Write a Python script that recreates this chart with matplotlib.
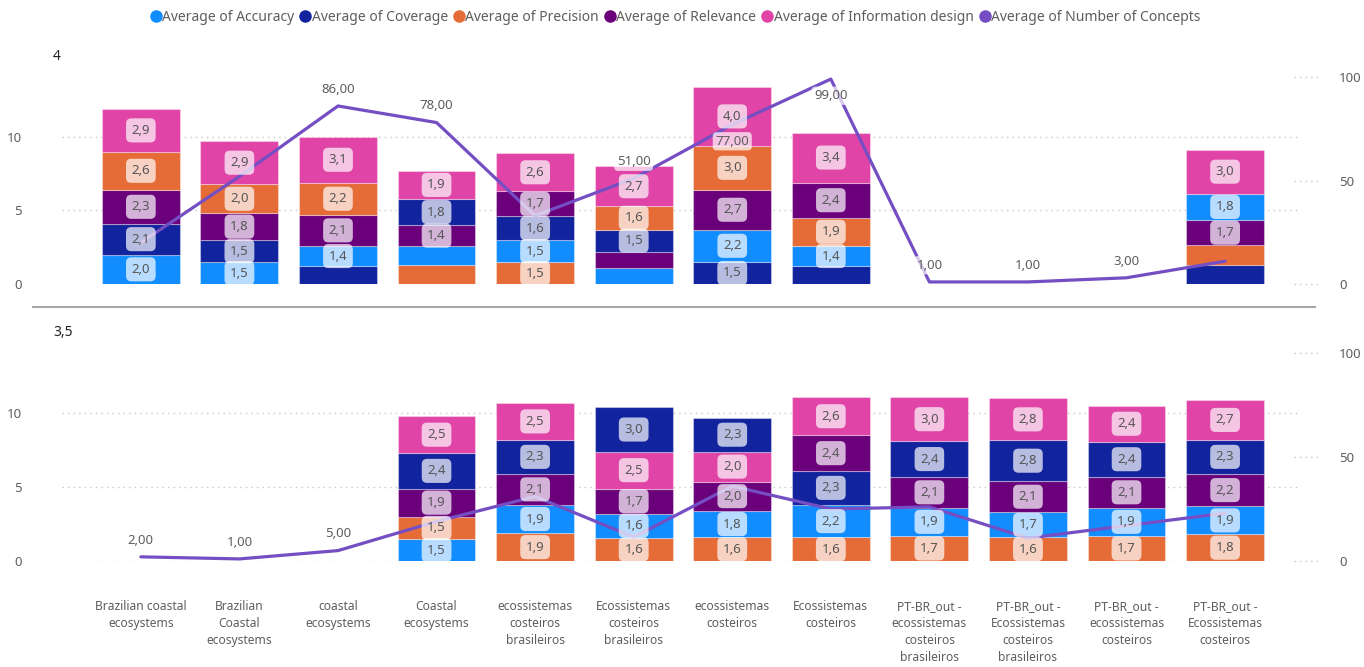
import numpy as np
import matplotlib
matplotlib.use('Agg')
import matplotlib.pyplot as plt
from matplotlib.lines import Line2D
from matplotlib.transforms import blended_transform_factory

plt.rcParams['font.family'] = ['Noto Sans', 'DejaVu Sans']

nan = np.nan

categories = ['Brazilian coastal\necosystems', 'Brazilian\nCoastal\necosystems', 'coastal\necosystems',
              'Coastal\necosystems', 'ecossistemas\ncosteiros\nbrasileiros', 'Ecossistemas\ncosteiros\nbrasileiros',
              'ecossistemas\ncosteiros', 'Ecossistemas\ncosteiros', 'PT-BR_out -\necossistemas\ncosteiros\nbrasileiros',
              'PT-BR_out -\nEcossistemas\ncosteiros\nbrasileiros', 'PT-BR_out -\necossistemas\ncosteiros',
              'PT-BR_out -\nEcossistemas\ncosteiros']

series_names = ['Average of Accuracy', 'Average of Coverage', 'Average of Precision',
                'Average of Relevance', 'Average of Information design']
line_name = 'Average of Number of Concepts'

# panel "4"
accuracy_4 = [2.0, 1.48, 1.4, 1.32, 1.52, 1.08, 2.2, 1.4, nan, nan, nan, 1.8]
coverage_4 = [2.1, 1.52, 1.2, 1.8, 1.6, 1.5, 1.5, 1.2, nan, nan, nan, 1.3]
precision_4 = [2.6, 2.0, 2.2, 1.27, 1.48, 1.6, 3.0, 1.9, nan, nan, nan, 1.34]
relevance_4 = [2.3, 1.8, 2.1, 1.4, 1.7, 1.12, 2.7, 2.4, nan, nan, nan, 1.7]
info_4 = [2.9, 2.9, 3.1, 1.9, 2.6, 2.7, 4.0, 3.4, nan, nan, nan, 3.0]
concepts_4 = [20, 52, 86, 78, 33, 51, 77, 99, 1, 1, 3, 11]

# panel "3,5"
accuracy_35 = [nan, nan, nan, 1.48, 1.92, 1.62, 1.8, 2.2, 1.9, 1.7, 1.9, 1.9]
coverage_35 = [nan, nan, nan, 2.4, 2.3, 3.0, 2.3, 2.3, 2.4, 2.78, 2.38, 2.3]
precision_35 = [nan, nan, nan, 1.52, 1.88, 1.58, 1.6, 1.6, 1.7, 1.6, 1.7, 1.8]
relevance_35 = [nan, nan, nan, 1.9, 2.1, 1.7, 1.98, 2.4, 2.1, 2.1, 2.1, 2.2]
info_35 = [nan, nan, nan, 2.5, 2.5, 2.5, 2.02, 2.6, 3.0, 2.82, 2.42, 2.7]
concepts_35 = [2, 1, 5, 19, 31, 11.5, 36, 25, 26, 11, 17, 23]

colors = ['#118DFF', '#12239E', '#E66C37', '#6B007B', '#E044A7']
line_color = '#744EC2'
text_color = '#605E5C'

panels = [
    ('4', [accuracy_4, coverage_4, precision_4, relevance_4, info_4], concepts_4,
     [False, False, True, True, False, True, True, True, True, True, True, False], {6, 7}),
    ('3,5', [accuracy_35, coverage_35, precision_35, relevance_35, info_35], concepts_35,
     [True, True, True] + [False] * 9, set()),
]

fig = plt.figure(figsize=(13.64, 6.67), dpi=100)
W, H = 1364.0, 667.0
boxes = [(284, 77), (561, 353)]

for p, (title, series, concepts, show_lbl, below) in enumerate(panels):
    y0, y1 = boxes[p]
    ax = fig.add_axes([62 / W, 1 - y0 / H, (1300 - 62) / W, (y0 - y1) / H])
    ax2 = ax.twinx()
    x = np.arange(len(categories))

    data = np.array(series, dtype=float)
    for i in x:
        col = data[:, i]
        if np.all(np.isnan(col)):
            continue
        order = np.argsort(col)
        bottom = 0.0
        for k in order:
            v = col[k]
            ax.bar(i, v, bottom=bottom, width=0.79, color=colors[k],
                   edgecolor=(1, 1, 1, 0.35), linewidth=0.8, zorder=2)
            if v >= 1.35:
                ax2.text(i, bottom + v / 2, f'{v:.1f}'.replace('.', ','), transform=ax.transData,
                         ha='center', va='center', fontsize=9.5, color='#555555', zorder=6,
                         bbox=dict(boxstyle='round,pad=0.42,rounding_size=0.4', fc='white',
                                   ec='none', alpha=0.7))
            bottom += v

    ax2.plot(x, concepts, color=line_color, lw=2.3, zorder=4, solid_capstyle='round')
    for i, v in enumerate(concepts):
        if not show_lbl[i]:
            continue
        dy = -12 if i in below else 12
        ax2.annotate(f'{v:.2f}'.replace('.', ','), (i, v), xytext=(0, dy), textcoords='offset points',
                     ha='center', va='center', fontsize=9.5, color=text_color, zorder=7,
                     bbox=dict(boxstyle='round,pad=0.2,rounding_size=0.3', fc='white', ec='none', alpha=0.7))

    ax.set_xlim(-0.8, 11.76)
    ax.set_ylim(0, 14.08)
    ax2.set_ylim(0, 100)
    ax.set_yticks([0, 5, 10])
    ax2.set_yticks([0, 50, 100])
    ax.yaxis.grid(True, linestyle=(0, (1, 3)), color='#C8C8C8', lw=1)
    ax.set_axisbelow(True)
    for a in (ax, ax2):
        for s in a.spines.values():
            s.set_visible(False)
    ax.tick_params(axis='y', length=0, pad=29, labelcolor=text_color, labelsize=9.5)
    ax2.tick_params(axis='y', length=0, pad=28, labelcolor=text_color, labelsize=9.5)
    trans = blended_transform_factory(ax2.transAxes, ax2.transData)
    for t in [0, 50, 100]:
        ax2.plot([0.995, 1.015], [t, t], transform=trans, ls=(0, (1, 3)), color='#C8C8C8',
                 lw=1, clip_on=False)

    ax.set_xticks(x)
    if p == 1:
        ax.set_xticklabels(categories, fontsize=8.7, color=text_color, linespacing=1.42, va='top')
        ax.tick_params(axis='x', length=0, pad=28)
    else:
        ax.set_xticklabels([])
        ax.tick_params(axis='x', length=0)

    fig.text(53 / W, 1 - (y1 - 20) / H, title, fontsize=10, color='#252423',
             weight='bold', va='center')

fig.add_artist(Line2D([33 / W, 1315 / W], [1 - 307 / H] * 2, color='#A6A6A6', lw=1.5))

handles = [Line2D([], [], marker='o', ls='none', color=c, markersize=8) for c in colors + [line_color]]
fig.legend(handles, series_names + [line_name], loc='center', bbox_to_anchor=(0.495, 0.974), ncol=6,
           frameon=False, handletextpad=0.05, columnspacing=0.4, handlelength=0.8,
           fontsize=10, labelcolor=text_color)

plt.savefig('out.png', dpi=100)
